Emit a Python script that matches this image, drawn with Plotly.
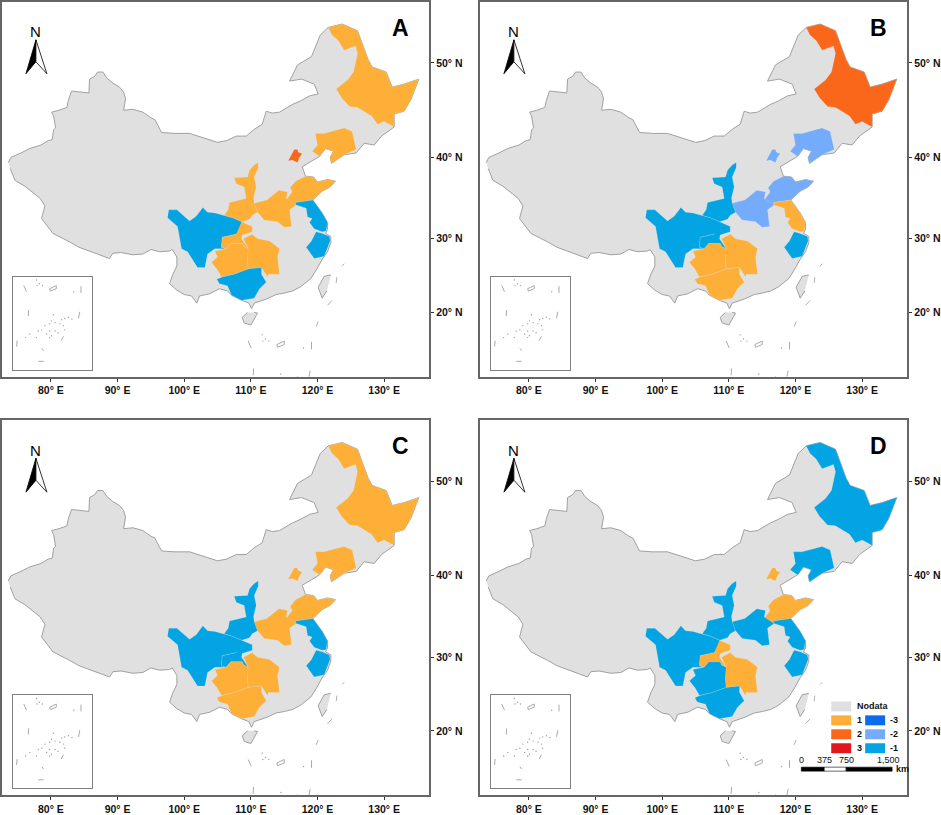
import numpy as np
import plotly.graph_objects as go

W, H = 941, 815

# outlines, lon / lat
china_lon = [73.6, 74.0, 75.5, 76.8, 78.5, 79.6, 80.2, 80.4, 80.7, 80.4, 80.1, 81.2, 82.4, 82.6, 83.1, 84.4, 85.7, 85.8, 86.6, 87.0, 87.8, 88.4, 89.3, 90.3, 90.9, 91.2, 90.9, 92.3, 93.8, 95.0, 95.6, 96.6, 98.5, 100.8, 102.5, 105.0, 106.4, 107.8, 109.3, 110.6, 111.7, 112.3, 113.2, 114.3, 116.2, 117.5, 118.8, 120.1, 119.5, 117.6, 115.8, 117.0, 119.1, 119.8, 120.4, 121.6, 123.7, 126.0, 127.0, 127.6, 128.2, 130.3, 131.2, 133.0, 135.2, 134.0, 133.0, 131.5, 131.5, 130.5, 129.6, 128.5, 127.0, 125.8, 124.0, 122.1, 121.9, 122.4, 121.2, 120.3, 118.9, 117.7, 118.2, 119.4, 120.0, 121.5, 122.7, 121.9, 120.7, 119.3, 120.7, 121.5, 121.5, 121.2, 122.0, 122.0, 121.5, 120.7, 119.9, 119.0, 117.5, 116.3, 115.0, 113.8, 112.4, 111.3, 110.5, 110.1, 109.7, 108.6, 107.1, 106.5, 105.3, 103.8, 102.3, 101.9, 101.1, 100.0, 98.9, 97.8, 98.3, 98.9, 98.9, 98.2, 97.8, 96.3, 95.0, 93.8, 92.3, 90.5, 89.3, 88.8, 87.2, 85.8, 84.2, 82.8, 81.4, 80.3, 78.6, 79.1, 78.4, 77.2, 76.1, 74.6, 73.9]
china_lat = [39.4, 40.0, 40.5, 41.0, 41.4, 41.9, 42.0, 43.1, 43.3, 44.6, 45.0, 45.2, 45.5, 46.2, 47.2, 47.1, 47.0, 48.4, 48.7, 49.1, 49.1, 48.5, 48.0, 47.6, 47.1, 46.4, 45.2, 45.3, 45.0, 44.4, 44.2, 42.8, 42.7, 42.7, 42.3, 41.7, 41.9, 42.4, 42.4, 43.2, 43.7, 45.1, 44.9, 45.0, 45.8, 46.2, 46.7, 46.9, 47.9, 48.4, 48.2, 49.8, 50.6, 51.6, 52.6, 53.3, 53.6, 53.0, 51.4, 50.3, 49.6, 49.1, 47.6, 47.9, 48.4, 46.3, 45.1, 44.8, 43.4, 42.9, 42.4, 41.4, 41.6, 40.5, 40.3, 39.3, 40.0, 40.7, 41.0, 40.1, 39.5, 38.9, 37.8, 37.7, 37.1, 37.4, 37.2, 36.5, 36.0, 34.9, 33.3, 32.1, 31.2, 30.7, 30.3, 29.5, 28.3, 27.3, 26.0, 24.7, 23.6, 23.0, 22.7, 22.5, 21.9, 21.6, 21.3, 20.5, 21.3, 21.7, 22.4, 23.0, 23.3, 22.6, 22.3, 21.3, 22.3, 22.5, 23.1, 24.0, 25.3, 26.4, 27.6, 28.6, 28.4, 28.3, 28.6, 28.0, 27.9, 28.2, 28.1, 27.4, 27.9, 28.3, 28.9, 29.6, 30.2, 30.7, 32.6, 34.2, 35.1, 35.9, 36.6, 37.3, 38.7]

heilongjiang_lon = [121.6, 123.7, 126.0, 127.0, 127.6, 128.2, 130.3, 131.2, 133.0, 135.2, 134.0, 133.0, 131.5, 131.5, 130.0, 129.0, 128.1, 126.0, 124.8, 123.6, 122.8, 124.5, 125.4, 126.0, 125.7, 124.0, 123.1, 122.2]
heilongjiang_lat = [53.3, 53.6, 53.0, 51.4, 50.3, 49.6, 49.1, 47.6, 47.9, 48.4, 46.3, 45.1, 44.8, 43.4, 44.0, 43.7, 44.6, 45.5, 45.6, 46.5, 47.4, 48.3, 49.1, 50.9, 51.6, 51.2, 52.1, 52.6]
liaoning_lon = [119.7, 121.0, 124.0, 125.2, 125.8, 124.0, 122.1, 121.9, 122.4, 121.2, 120.3, 119.2, 120.0]
liaoning_lat = [42.7, 42.7, 43.3, 42.9, 40.9, 40.3, 39.3, 40.0, 40.7, 41.0, 40.1, 40.7, 41.4]
beijing_lon = [115.6, 116.1, 116.5, 117.0, 117.1, 117.7, 117.3, 117.0, 116.2]
beijing_lat = [39.6, 40.3, 40.9, 40.9, 40.6, 40.4, 40.0, 39.4, 39.7]
shandong_lon = [115.3, 116.2, 115.9, 116.7, 118.2, 119.4, 120.0, 121.5, 122.7, 121.9, 120.7, 119.3, 116.7, 116.8, 116.2]
shandong_lat = [34.9, 35.9, 36.4, 37.2, 37.8, 37.7, 37.1, 37.4, 37.2, 36.5, 36.0, 34.9, 34.6, 34.3, 34.5]
henan_lon = [110.5, 112.4, 114.2, 115.5, 115.3, 116.8, 115.8, 116.1, 115.0, 114.0, 112.0, 111.0]
henan_lat = [34.5, 34.9, 36.1, 35.9, 35.1, 34.3, 33.7, 31.6, 31.5, 32.2, 32.4, 33.4]
shaanxi_lon = [111.1, 110.5, 109.8, 109.5, 107.5, 107.8, 109.0, 109.3, 106.8, 106.6, 106.0, 107.2, 108.6, 109.8, 110.2, 111.0, 110.5, 110.4, 110.8, 110.5, 111.1]
shaanxi_lat = [39.4, 39.1, 38.5, 37.7, 37.6, 36.9, 36.5, 35.1, 34.6, 33.7, 33.0, 32.7, 32.2, 32.5, 33.0, 33.4, 34.5, 35.2, 36.5, 37.7, 38.8]
sichuan_lon = [97.7, 98.9, 100.8, 101.8, 102.8, 103.5, 104.6, 106.0, 107.2, 108.6, 108.9, 107.8, 105.7, 105.6, 106.3, 104.6, 103.5, 103.1, 102.0, 100.5, 99.6, 99.0, 97.5]
sichuan_lat = [33.7, 33.7, 32.3, 32.9, 34.0, 33.4, 33.3, 33.0, 32.7, 32.2, 31.8, 30.6, 30.2, 28.9, 28.7, 28.7, 28.0, 26.2, 26.2, 28.3, 28.7, 31.6, 32.7]
chongqing_lon = [108.6, 110.2, 110.2, 108.7, 108.6, 109.6, 108.9, 108.7, 107.0, 106.3, 105.6, 105.7, 107.8]
chongqing_lat = [32.2, 31.6, 30.9, 30.5, 30.0, 28.7, 29.0, 29.4, 29.4, 28.7, 28.9, 30.2, 30.6]
guizhou_lon = [104.1, 105.0, 104.6, 106.3, 107.0, 108.7, 108.9, 109.6, 109.5, 109.6, 107.5, 105.6, 104.9]
guizhou_lat = [26.9, 27.6, 28.4, 28.7, 29.4, 29.4, 29.0, 28.7, 27.3, 26.0, 25.3, 24.9, 26.0]
hunan_lon = [109.6, 108.9, 110.2, 111.0, 112.8, 114.3, 114.0, 114.3, 112.6, 112.5, 111.6, 109.6, 109.5]
hunan_lat = [28.7, 30.0, 30.6, 30.0, 29.7, 28.7, 27.6, 25.3, 25.3, 24.9, 26.2, 26.0, 27.3]
guangxi_lon = [104.9, 105.7, 107.5, 109.6, 111.6, 111.6, 112.3, 111.3, 110.5, 108.6, 107.1, 106.5, 105.3]
guangxi_lat = [24.6, 24.9, 25.3, 26.0, 26.2, 25.3, 24.2, 23.3, 22.0, 21.7, 22.4, 23.7, 24.0]
jiangsu_lon = [116.7, 119.3, 120.7, 121.5, 121.3, 120.7, 119.5, 118.8, 119.2, 118.5, 118.3, 116.8]
jiangsu_lat = [34.6, 34.9, 33.3, 32.1, 31.0, 30.9, 31.3, 32.1, 32.6, 32.8, 33.9, 34.3]
zhejiang_lon = [119.8, 120.7, 121.8, 121.9, 121.0, 119.5, 118.3, 119.1]
zhejiang_lat = [30.9, 30.7, 30.3, 29.7, 27.7, 27.4, 28.9, 29.7]

provinces = ["Heilongjiang", "Liaoning", "Beijing", "Shandong", "Henan", "Shaanxi", "Sichuan", "Chongqing", "Guizhou", "Hunan", "Guangxi", "Jiangsu", "Zhejiang"]
province_lons = [heilongjiang_lon, liaoning_lon, beijing_lon, shandong_lon, henan_lon, shaanxi_lon, sichuan_lon, chongqing_lon, guizhou_lon, hunan_lon, guangxi_lon, jiangsu_lon, zhejiang_lon]
province_lats = [heilongjiang_lat, liaoning_lat, beijing_lat, shandong_lat, henan_lat, shaanxi_lat, sichuan_lat, chongqing_lat, guizhou_lat, hunan_lat, guangxi_lat, jiangsu_lat, zhejiang_lat]

# class per province, same order
values_a = [1, 1, 2, 1, 1, 1, -1, 1, 1, 1, -1, -1, -1]
values_b = [2, -2, -2, -2, -2, -1, -1, -1, 1, 1, 1, 1, -1]
values_c = [1, 1, 1, 1, 1, -1, -1, -1, 1, 1, 1, -1, -1]
values_d = [-1, -1, 1, 1, -1, -1, -1, 1, -1, 1, -1, -1, -1]

taiwan_lon = [122.0, 121.0, 120.1, 120.7, 121.4]
taiwan_lat = [25.2, 25.0, 23.5, 22.0, 23.0]
hainan_lon = [110.5, 111.0, 110.0, 109.0, 108.7, 109.5]
hainan_lat = [20.0, 19.9, 18.2, 18.5, 19.3, 20.0]

dash_lon = [109.6, 110.05, None, 119.1, 119.1, None, 110.4, 110.35, None, 118.9, 118.7, None, 115.8, 116.2, None, 108.5, 108.4, None, 112.0, 112.9, None, 112.6, 112.9, None, 113.9, 115.0, 115.0, 114.0, 113.9]
dash_lat = [15.9, 14.9, None, 15.8, 14.7, None, 11.9, 10.9, None, 11.6, 10.5, None, 6.8, 7.5, None, 6.8, 5.8, None, 3.3, 3.3, None, 5.5, 5.1, None, 15.4, 15.9, 15.4, 15.0, 15.4]
north_dash_lon = [121.5, 122.2, None, 119.8, 120.1, None, 122.8, 122.9, None, 123.7, 124.0]
north_dash_lat = [21.0, 21.7, None, 18.0, 18.7, None, 24.1, 24.9, None, 26.4, 26.7]
island_lon = [111.7, 112.2, 112.7, 111.8, 117.9, 114.5, 114.2, 114.8, 113.9, 115.9, 116.4, 117.0, 117.6, 115.6, 116.2, 113.1, 112.6, 112.0, 113.9, 114.8, 113.4, 114.2, 115.3, 110.6, 109.9, 111.7, 113.9, 116.4]
island_lat = [16.8, 16.2, 15.9, 15.9, 14.9, 11.1, 10.1, 9.8, 9.6, 10.3, 10.5, 10.7, 10.4, 9.6, 9.3, 9.3, 8.6, 8.4, 8.4, 8.4, 7.9, 7.6, 8.1, 7.9, 7.3, 7.3, 7.3, 8.6]

lon_ticks = [80, 90, 100, 110, 120, 130]
lat_ticks = [20, 30, 40, 50]

class_colors = {1: "#FDAF38", 2: "#FA661A", 3: "#E3161C", -3: "#0A6CEB", -2: "#74ABFA", -1: "#02A4E3"}
GREY = "#E0E0E0"
COAST = "#A0A0A0"
FONT = "Liberation Sans"


def merc(lat):
    return np.degrees(np.log(np.tan(np.radians(45 + np.array(lat, dtype=float) / 2))))


def merc_line(lat):
    return [None if v is None else float(merc(v)) for v in lat]


def fx(px):
    return px / W


def fy(py):
    return 1 - py / H


fig = go.Figure()
panels = [("A", 2, 2, values_a), ("B", 481, 2, values_b), ("C", 2, 422, values_c), ("D", 481, 422, values_d)]
shapes = []
annotations = []


def label(text, x, y, size=9, anchor="left", color="#111"):
    annotations.append(dict(text=text, x=fx(x), y=fy(y), xref="paper", yref="paper", showarrow=False,
                            xanchor=anchor, yanchor="middle", font=dict(family=FONT, size=size, color=color)))


for i, (letter, ox, oy, values) in enumerate(panels):
    n = i + 1
    xa, ya = f"x{n}", f"y{n}"
    xi, yi = f"x{n + 4}", f"y{n + 4}"

    for lon, lat in [(china_lon, china_lat), (taiwan_lon, taiwan_lat), (hainan_lon, hainan_lat)]:
        fig.add_scatter(x=lon, y=merc(lat), xaxis=xa, yaxis=ya, mode="lines", fill="toself",
                        fillcolor=GREY, line=dict(color=COAST, width=1), hoverinfo="skip")
    for name, lon, lat, v in zip(provinces, province_lons, province_lats, values):
        fig.add_scatter(x=lon, y=merc(lat), xaxis=xa, yaxis=ya, mode="lines", fill="toself", name=name,
                        fillcolor=class_colors[v], line=dict(color="rgba(225,235,240,0.3)", width=0.6))

    # nine dash line and islands, on the map and again in the inset
    for ax_x, ax_y in [(xa, ya), (xi, yi)]:
        fig.add_scatter(x=dash_lon, y=merc_line(dash_lat), xaxis=ax_x, yaxis=ax_y, mode="lines",
                        line=dict(color="#a0a0a0", width=0.9), hoverinfo="skip")
        fig.add_scatter(x=island_lon, y=merc(island_lat), xaxis=ax_x, yaxis=ax_y, mode="markers",
                        marker=dict(color="#a0a0a0", size=1.4), hoverinfo="skip")
    fig.add_scatter(x=north_dash_lon, y=merc_line(north_dash_lat), xaxis=xa, yaxis=ya, mode="lines",
                    line=dict(color="#a8a8a8", width=0.9), hoverinfo="skip")

    suffix = "" if n == 1 else str(n)
    fig.layout[f"xaxis{suffix}"] = dict(
        domain=[fx(ox), fx(ox + 428)], range=[72.66, 136.74], anchor=ya, tickvals=lon_ticks,
        ticktext=[f"{v}° E" for v in lon_ticks], ticks="outside", ticklen=3, tickcolor="#333",
        showgrid=False, zeroline=False, showline=True, mirror=True, linecolor="#666", linewidth=2,
        tickfont=dict(family=FONT, size=10.5, color="#111", weight="bold"))
    fig.layout[f"yaxis{suffix}"] = dict(
        domain=[fy(oy + 376), fy(oy)], range=[float(merc(10.71)), float(merc(55.52))], anchor=xa, side="right",
        tickvals=merc(lat_ticks).tolist(), ticktext=[f"{v}° N" for v in lat_ticks], ticks="outside", ticklen=3,
        tickcolor="#333", showgrid=False, zeroline=False, showline=True, mirror=True, linecolor="#666",
        linewidth=2, tickfont=dict(family=FONT, size=10.5, color="#111", weight="bold"))
    # inset box
    fig.layout[f"xaxis{n + 4}"] = dict(
        domain=[fx(ox + 11), fx(ox + 90)], range=[107.8, 120.9], anchor=yi, showticklabels=False, ticks="",
        showgrid=False, zeroline=False, showline=True, mirror=True, linecolor="#808080", linewidth=1)
    fig.layout[f"yaxis{n + 4}"] = dict(
        domain=[fy(oy + 369), fy(oy + 276)], range=[float(merc(1.9)), float(merc(17.3))], anchor=xi,
        showticklabels=False, ticks="", showgrid=False, zeroline=False, showline=True, mirror=True,
        linecolor="#808080", linewidth=1)

    # north arrow
    tip = (fx(ox + 34), fy(oy + 38))
    notch = (fx(ox + 34), fy(oy + 60))
    left = (fx(ox + 24), fy(oy + 72))
    right = (fx(ox + 45), fy(oy + 72))
    for a, color in [(left, "#000"), (right, "#fff")]:
        shapes.append(dict(type="path", xref="paper", yref="paper", fillcolor=color,
                           line=dict(color="#000", width=0.8),
                           path=f"M{tip[0]},{tip[1]} L{a[0]},{a[1]} L{notch[0]},{notch[1]} Z"))
    label("N", ox + 34, oy + 30, size=15, anchor="center", color="#000")
    label(f"<b>{letter}</b>", ox + 399, oy + 26, size=23, anchor="center", color="#000")


def legend_box(x, y, color):
    shapes.append(dict(type="rect", xref="paper", yref="paper", x0=fx(x), x1=fx(x + 20), y0=fy(y + 10), y1=fy(y),
                       fillcolor=color, line=dict(width=0)))


legend_box(833, 704, GREY)
label("<b>Nodata</b>", 857, 709)
for y, left_v, right_v in [(718, 1, -3), (732, 2, -2), (746, 3, -1)]:
    legend_box(833, y, class_colors[left_v])
    legend_box(867, y, class_colors[right_v])
    label(f"<b>{left_v}</b>", 857, y + 5)
    label(f"<b>{right_v}</b>", 890, y + 5)

# scale bar
for x0, x1, color in [(803, 826, "#000"), (826, 848, "#fff"), (848, 894, "#000")]:
    shapes.append(dict(type="rect", xref="paper", yref="paper", x0=fx(x0), x1=fx(x1), y0=fy(774), y1=fy(770),
                       fillcolor=color, line=dict(color="#000", width=0.6)))
for text, x in [("0", 803), ("375", 826), ("750", 848), ("1,500", 890)]:
    label(text, x, 763, size=9, anchor="center")
label("<b>km</b>", 896, 772, size=9)

fig.update_layout(width=W, height=H, margin=dict(l=0, r=0, t=0, b=0), showlegend=False,
                  paper_bgcolor="white", plot_bgcolor="white", shapes=shapes, annotations=annotations)
fig.write_html("out.html", config={"displayModeBar": False},
               post_script="document.body.style.margin='0';document.documentElement.style.overflow='hidden';document.body.style.overflow='hidden';")
